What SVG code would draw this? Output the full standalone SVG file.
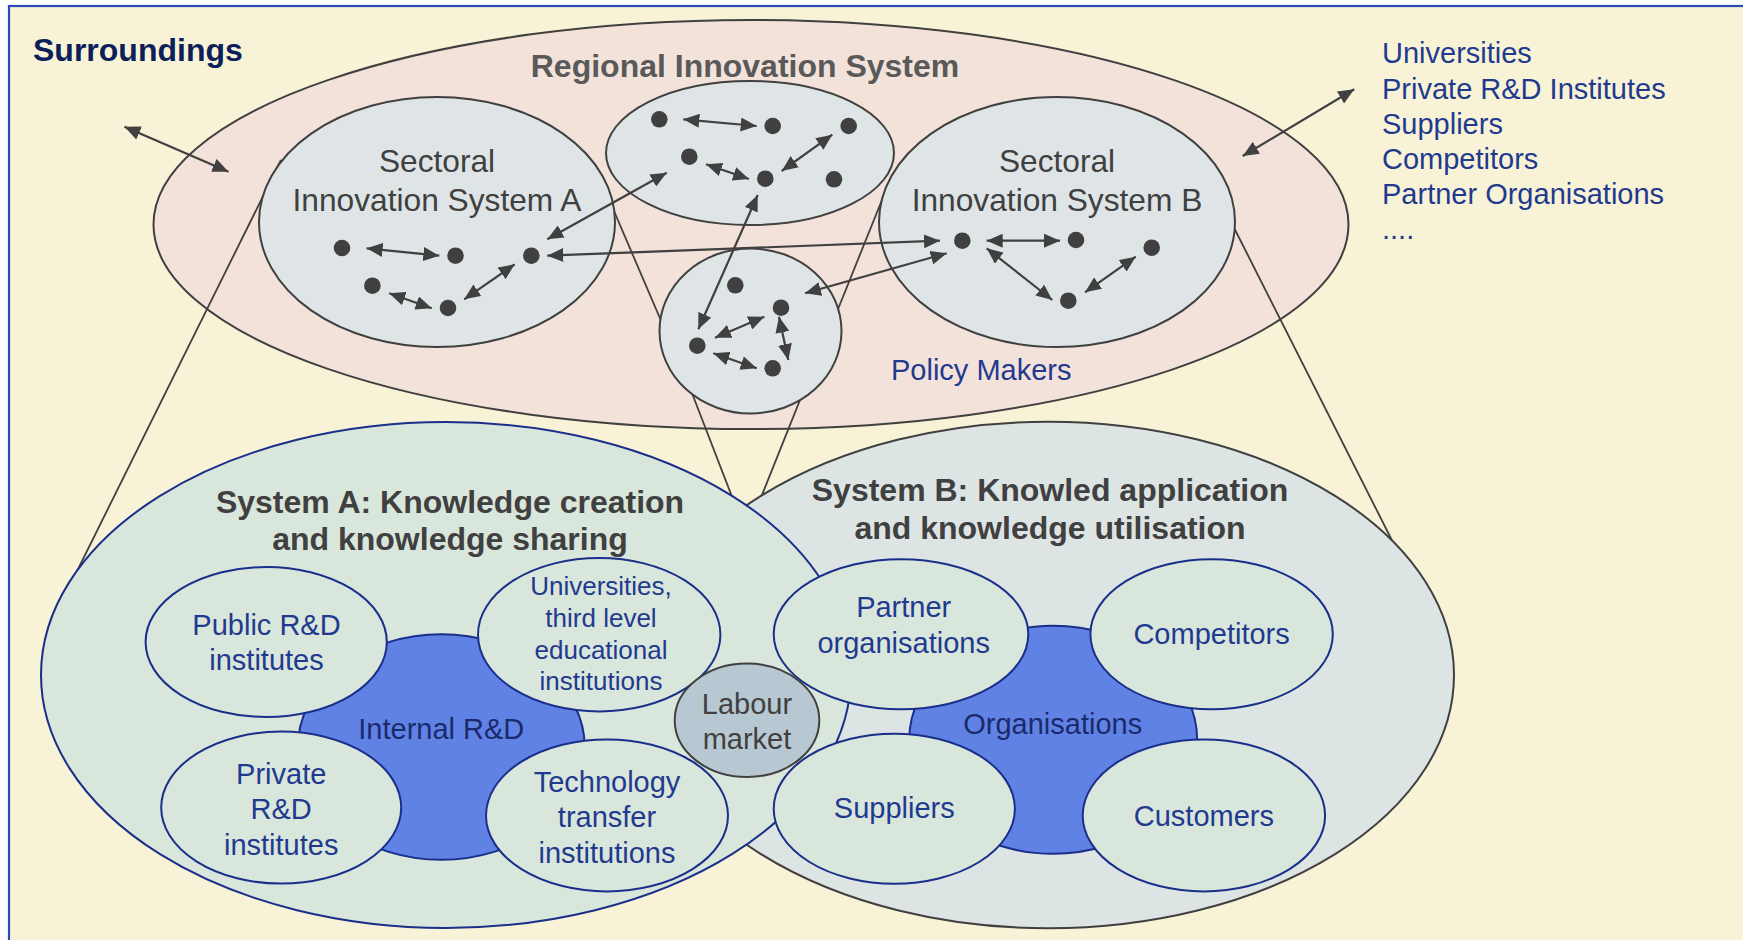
<svg xmlns="http://www.w3.org/2000/svg" width="1743" height="940" viewBox="0 0 1743 940">
<defs>
<marker id="ah" markerUnits="userSpaceOnUse" markerWidth="17" markerHeight="14" refX="16" refY="7" orient="auto-start-reverse" viewBox="0 0 17 14">
<path d="M0,0 L16,7 L0,14 z" fill="#404040"/>
</marker>
<style>
.bg{fill:#f8f3d6}
.ln{stroke:#404040;stroke-width:1.8;fill:none}
.ar{stroke:#404040;stroke-width:2.2;fill:none;marker-start:url(#ah);marker-end:url(#ah)}
.dot{fill:#404040}
.gray{stroke:#404040;stroke-width:2}
.navy{stroke:#1a2f8a;stroke-width:2}
.t{font-family:"Liberation Sans",Arial,sans-serif}
.b{font-weight:bold}
.mid{text-anchor:middle}
.blue{fill:#1f3a8f}
.dk{fill:#404040}
</style>
</defs>
<rect x="0" y="0" width="1743" height="940" fill="#ffffff"/>
<rect x="9" y="6" width="1800" height="1000" class="bg" stroke="#2a48b8" stroke-width="2.2"/>

<g id="surroundings">
<text x="33" y="61" class="t b" font-size="32" fill="#0c1f5a">Surroundings</text>
</g>

<g id="surroundings-list">
<text class="t blue" font-size="29">
<tspan x="1382" y="63">Universities</tspan>
<tspan x="1382" y="98.5">Private R&amp;D Institutes</tspan>
<tspan x="1382" y="133.5">Suppliers</tspan>
<tspan x="1382" y="169">Competitors</tspan>
<tspan x="1382" y="204">Partner Organisations</tspan>
<tspan x="1382" y="239">....</tspan>
</text>
</g>

<g id="regional-innovation-system">
<ellipse cx="751" cy="224.5" rx="597.5" ry="204.5" fill="#f3e2da" class="gray"/>
<text x="745" y="77" class="t b mid" font-size="32" fill="#595959">Regional Innovation System</text>
<text x="891" y="380" class="t blue" font-size="29">Policy Makers</text>
</g>

<g id="cone-lines">
<line x1="281" y1="160" x2="62.7" y2="600" class="ln"/>
<line x1="1220" y1="200" x2="1412" y2="580" class="ln"/>
<line x1="605" y1="190" x2="669.3" y2="340" class="ln"/>
<line x1="886" y1="190" x2="829.6" y2="330" class="ln"/>
<line x1="686.9" y1="380" x2="741" y2="520" class="ln"/>
<line x1="808" y1="380" x2="752" y2="520" class="ln"/>
</g>

<g id="sis-a">
<ellipse cx="437" cy="222" rx="178" ry="125" fill="#dfe5e6" class="gray"/>
<text class="t mid dk" font-size="31.7"><tspan x="437" y="172">Sectoral</tspan><tspan x="437" y="211">Innovation System A</tspan></text>
</g>

<g id="sis-b">
<ellipse cx="1057" cy="222" rx="178" ry="125" fill="#dfe5e6" class="gray"/>
<text class="t mid dk" font-size="31.7"><tspan x="1057" y="172">Sectoral</tspan><tspan x="1057" y="211">Innovation System B</tspan></text>
</g>

<g id="cluster-top">
<ellipse cx="750" cy="153" rx="144" ry="72" fill="#dfe5e6" class="gray"/>
</g>

<g id="cluster-small">
<ellipse cx="750.5" cy="331" rx="91" ry="82.5" fill="#dfe5e6" class="gray"/>
</g>

<g id="dots">
<circle cx="342" cy="248" r="8.3" class="dot"/>
<circle cx="455.5" cy="255.7" r="8.3" class="dot"/>
<circle cx="531.3" cy="255.7" r="8.3" class="dot"/>
<circle cx="372.4" cy="285.7" r="8.3" class="dot"/>
<circle cx="448" cy="308" r="8.3" class="dot"/>
<circle cx="659.3" cy="119.3" r="8.3" class="dot"/>
<circle cx="772.7" cy="126" r="8.3" class="dot"/>
<circle cx="848.7" cy="126" r="8.3" class="dot"/>
<circle cx="689.3" cy="156.7" r="8.3" class="dot"/>
<circle cx="765.3" cy="178.7" r="8.3" class="dot"/>
<circle cx="834" cy="179.3" r="8.3" class="dot"/>
<circle cx="735.3" cy="285.3" r="8.3" class="dot"/>
<circle cx="781" cy="307.7" r="8.3" class="dot"/>
<circle cx="697.3" cy="345.7" r="8.3" class="dot"/>
<circle cx="772.7" cy="368.3" r="8.3" class="dot"/>
<circle cx="962.3" cy="240.7" r="8.3" class="dot"/>
<circle cx="1076" cy="240" r="8.3" class="dot"/>
<circle cx="1151.7" cy="247.7" r="8.3" class="dot"/>
<circle cx="1068.3" cy="300.7" r="8.3" class="dot"/>
</g>

<g id="connectors">
<line x1="124.4" y1="126.7" x2="228.5" y2="171.7" class="ar"/>
<line x1="1354.2" y1="89.3" x2="1242.7" y2="156" class="ar"/>
<line x1="366.6" y1="248.3" x2="439.3" y2="255.7" class="ar"/>
<line x1="389.2" y1="293.3" x2="431.7" y2="308.3" class="ar"/>
<line x1="464.2" y1="299.3" x2="514.7" y2="264.3" class="ar"/>
<line x1="547.3" y1="239.3" x2="666.7" y2="172.7" class="ar"/>
<line x1="547.3" y1="255.7" x2="940" y2="240.7" class="ar"/>
<line x1="683.3" y1="119.3" x2="756.7" y2="126" class="ar"/>
<line x1="706" y1="164.3" x2="749" y2="179" class="ar"/>
<line x1="781.7" y1="171" x2="832.3" y2="134.7" class="ar"/>
<line x1="698.3" y1="329.3" x2="757.7" y2="195" class="ar"/>
<line x1="805" y1="293.3" x2="946.7" y2="253.3" class="ar"/>
<line x1="715" y1="337.7" x2="764.3" y2="316.7" class="ar"/>
<line x1="713.3" y1="353.3" x2="756.7" y2="368.3" class="ar"/>
<line x1="779" y1="316.7" x2="788.3" y2="360" class="ar"/>
<line x1="986.7" y1="240.7" x2="1060" y2="240.7" class="ar"/>
<line x1="986.7" y1="248.3" x2="1052.3" y2="300" class="ar"/>
<line x1="1085" y1="292.3" x2="1135.7" y2="256.7" class="ar"/>
</g>

<g id="system-b">
<ellipse cx="1048" cy="675" rx="406" ry="253.3" fill="#dde4e4" class="gray"/>
<text class="t b mid dk" font-size="32"><tspan x="1050" y="501">System B: Knowled application</tspan><tspan x="1050" y="539">and knowledge utilisation</tspan></text>
</g>

<g id="system-a">
<ellipse cx="446" cy="675" rx="405" ry="253" fill="#d9e6dc" class="navy"/>
<text class="t b mid dk" font-size="32"><tspan x="450" y="512.5">System A: Knowledge creation</tspan><tspan x="450" y="550">and knowledge sharing</tspan></text>
</g>

<g id="internal-rd">
<ellipse cx="441.3" cy="747" rx="143.4" ry="112.8" fill="#6182e5" class="navy"/>
<text x="441.3" y="739" class="t mid" font-size="29" fill="#1a2a6c">Internal R&amp;D</text>
</g>

<g id="public-rd">
<ellipse cx="266.2" cy="642" rx="120.6" ry="75" fill="#d9e6dc" class="navy"/>
<text class="t mid blue" font-size="29"><tspan x="266.5" y="634.7">Public R&amp;D</tspan><tspan x="266.5" y="670.3">institutes</tspan></text>
</g>

<g id="universities">
<ellipse cx="599.2" cy="634.7" rx="121.2" ry="76.7" fill="#d9e6dc" class="navy"/>
<text class="t mid blue" font-size="26"><tspan x="601" y="594.7">Universities,</tspan><tspan x="601" y="627">third level</tspan><tspan x="601" y="659.2">educational</tspan><tspan x="601" y="690.3">institutions</tspan></text>
</g>

<g id="private-rd">
<ellipse cx="281.2" cy="807.6" rx="120" ry="76" fill="#d9e6dc" class="navy"/>
<text class="t mid blue" font-size="29"><tspan x="281.2" y="783.7">Private</tspan><tspan x="281.2" y="819.2">R&amp;D</tspan><tspan x="281.2" y="854.8">institutes</tspan></text>
</g>

<g id="technology-transfer">
<ellipse cx="607" cy="815.4" rx="121" ry="76" fill="#d9e6dc" class="navy"/>
<text class="t mid blue" font-size="29"><tspan x="607" y="791.5">Technology</tspan><tspan x="607" y="827">transfer</tspan><tspan x="607" y="862.6">institutions</tspan></text>
</g>

<g id="organisations">
<ellipse cx="1053.2" cy="739.8" rx="144" ry="114" fill="#6182e5" class="navy"/>
<text x="1052.7" y="733.7" class="t mid" font-size="29" fill="#1a2a6c">Organisations</text>
</g>

<g id="partner-organisations">
<ellipse cx="901" cy="634.2" rx="127.3" ry="75" fill="#d9e6dc" class="navy"/>
<text class="t mid blue" font-size="29"><tspan x="903.7" y="617">Partner</tspan><tspan x="903.7" y="652.5">organisations</tspan></text>
</g>

<g id="competitors">
<ellipse cx="1211.6" cy="634.2" rx="121.2" ry="75" fill="#d9e6dc" class="navy"/>
<text x="1211.6" y="643.6" class="t mid blue" font-size="29">Competitors</text>
</g>

<g id="suppliers">
<ellipse cx="894.3" cy="808.7" rx="120.6" ry="75" fill="#d9e6dc" class="navy"/>
<text x="894.3" y="818" class="t mid blue" font-size="29">Suppliers</text>
</g>

<g id="customers">
<ellipse cx="1203.9" cy="815.4" rx="121.2" ry="76" fill="#d9e6dc" class="navy"/>
<text x="1203.9" y="826" class="t mid blue" font-size="29">Customers</text>
</g>

<g id="labour-market">
<ellipse cx="747" cy="720.3" rx="72.3" ry="56.7" fill="#b8c8d2" class="gray"/>
<text class="t mid dk" font-size="29"><tspan x="747" y="713.7">Labour</tspan><tspan x="747" y="749.2">market</tspan></text>
</g>
</svg>
